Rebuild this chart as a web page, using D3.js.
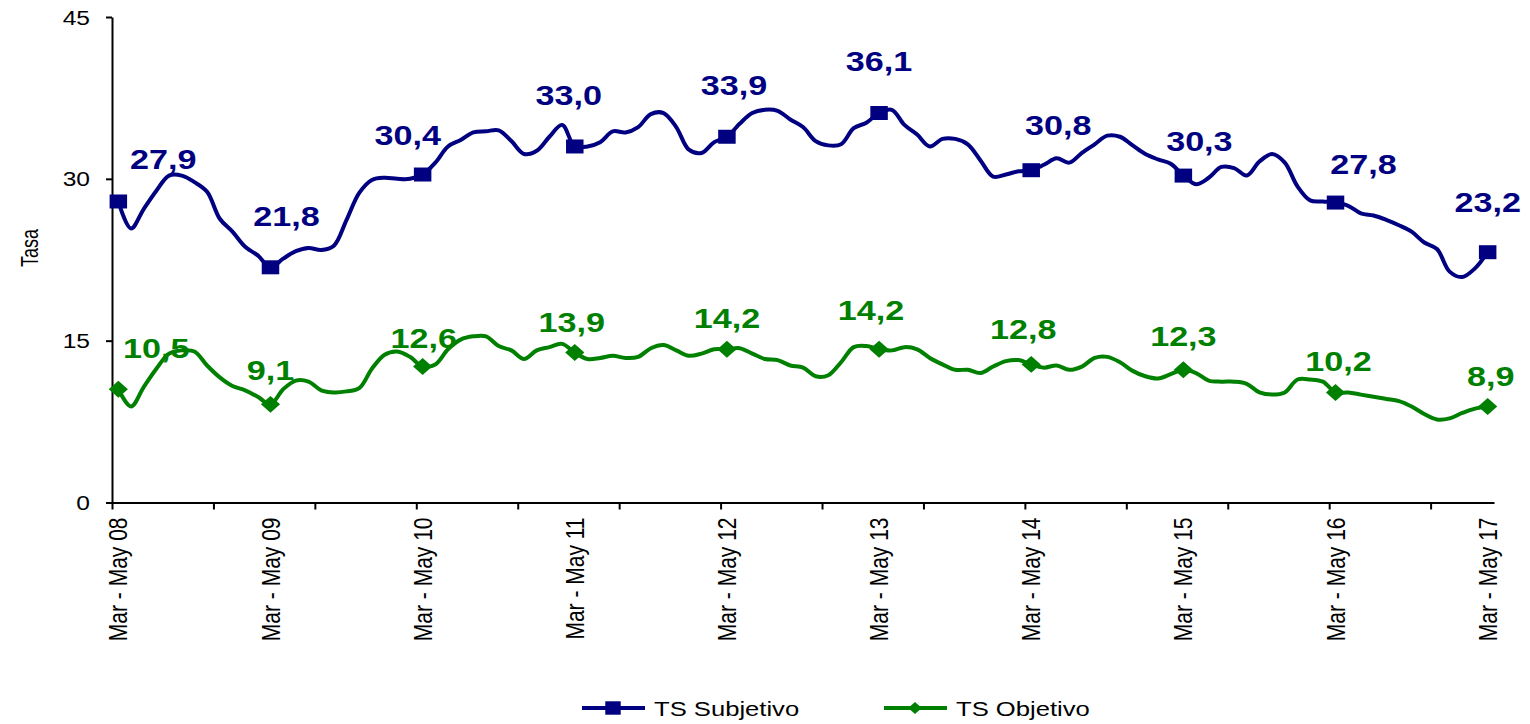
<!DOCTYPE html>
<html>
<head>
<meta charset="utf-8">
<script src="https://cdn.jsdelivr.net/npm/d3@7"></script>
<style>
  body { margin: 0; background: #fff; }
  svg { display: block; }
  text { font-family: "Liberation Sans", Arial, sans-serif; }
</style>
</head>
<body>
<svg id="chart"></svg>
<script>
// rolling quarters, Mar-May 08 .. Mar-May 17 (monthly)
const monthNames = ["Ene", "Feb", "Mar", "Abr", "May", "Jun", "Jul", "Ago", "Sep", "Oct", "Nov", "Dic"];
const categories = d3.range(109).map(i => {
  const s = (2 + i) % 12, e = (4 + i) % 12, yr = 8 + Math.floor((4 + i) / 12);
  return `${monthNames[s]} - ${monthNames[e]} ${String(yr).padStart(2, "0")}`;
});

const tsSubjetivo = [
  27.9, 25.4, 27.2, 28.9, 30.3, 30.3, 29.7, 28.8, 26.3, 25.1, 23.7, 22.9,
  21.8, 22.6, 23.3, 23.6, 23.4, 23.8, 26.2, 28.7, 29.9, 30.1, 30.0, 30.0,
  30.4, 31.5, 33.0, 33.6, 34.3, 34.4, 34.5, 33.5, 32.3, 32.6, 33.9, 35.0,
  33.0, 33.0, 33.4, 34.4, 34.3, 34.8, 36.0, 36.1, 34.8, 32.7, 32.4, 33.4,
  33.9, 35.1, 36.1, 36.4, 36.3, 35.5, 34.8, 33.5, 33.1, 33.2, 34.7, 35.2,
  36.1, 36.4, 35.0, 34.1, 33.0, 33.7, 33.7, 33.2, 31.7, 30.2, 30.4, 30.7,
  30.8, 31.3, 31.9, 31.5, 32.4, 33.2, 34.0, 33.9, 33.1, 32.3, 31.8, 31.4,
  30.3, 29.5, 30.1, 31.1, 31.0, 30.3, 31.6, 32.3, 31.5, 29.3, 28.0, 27.9,
  27.8, 27.5, 26.8, 26.6, 26.2, 25.7, 25.1, 24.1, 23.5, 21.4, 20.9, 21.7,
  23.2
];

const tsObjetivo = [
  10.5, 8.9, 10.7, 12.4, 13.8, 14.1, 14.0, 12.7, 11.6, 10.8, 10.4, 9.8,
  9.1, 10.5, 11.3, 11.2, 10.4, 10.2, 10.3, 10.6, 12.4, 13.7, 14.0, 13.5,
  12.6, 12.8, 14.2, 15.1, 15.4, 15.4, 14.5, 14.1, 13.3, 14.1, 14.4, 14.7,
  13.9, 13.3, 13.4, 13.6, 13.4, 13.5, 14.3, 14.6, 14.1, 13.6, 13.8, 14.2,
  14.2, 14.3, 13.8, 13.3, 13.2, 12.7, 12.5, 11.7, 11.8, 13.0, 14.4, 14.5,
  14.2, 14.1, 14.4, 14.2, 13.4, 12.8, 12.3, 12.3, 12.0, 12.6, 13.1, 13.2,
  12.8, 12.5, 12.7, 12.3, 12.6, 13.4, 13.5, 13.0, 12.2, 11.7, 11.5, 11.9,
  12.3, 12.0, 11.3, 11.2, 11.2, 11.0, 10.2, 10.0, 10.2, 11.4, 11.4, 11.2,
  10.2, 10.2, 10.0, 9.8, 9.6, 9.4, 8.9, 8.2, 7.7, 7.8, 8.3, 8.7,
  8.9
];

const yTicks = [0, 15, 30, 45];
const labelEvery = 12;   // one label / marker per year
const tickEvery = 8;     // tick marks on the category axis

// hand placed data labels (dx, dy from the point, like in the original)
const nudgeSubjetivo = [[45, -32], [16, -41], [-15, -30], [-6, -41], [7, -42], [0, -42], [27, -35], [16, -25], [28, -29], [0, -40]];
const nudgeObjetivo = [[38, -31], [0, -24], [1, -19], [-3, -21], [0, -21], [-8, -29], [-8, -25], [0, -24], [3, -21], [3, -20]];

const series = [
  { name: "TS Subjetivo", values: tsSubjetivo, color: "#000080", marker: "square", nudge: nudgeSubjetivo },
  { name: "TS Objetivo", values: tsObjetivo, color: "#008000", marker: "diamond", nudge: nudgeObjetivo }
];

const W = 1530, H = 724;
const stretch = 1.22; // the picture is wider than the fonts

const svg = d3.select("#chart").attr("width", W).attr("height", H);

const x = d3.scaleBand().domain(categories).range([112, 1494]).paddingInner(0).paddingOuter(0);
const cx = d => x(d) + x.bandwidth() / 2;
const xEdge = d3.scaleLinear().domain([0, categories.length]).range(x.range());
const y = d3.scaleLinear().domain([0, 45]).range([502.5, 17]);

// y axis
const yAxisG = svg.append("g")
  .attr("transform", `translate(${xEdge(0)},0)`)
  .call(d3.axisLeft(y).tickValues(yTicks).tickSize(6).tickSizeOuter(0).tickPadding(0));
yAxisG.select(".domain").attr("stroke", "#000").attr("stroke-width", 2);
yAxisG.selectAll(".tick line").attr("stroke", "#000").attr("stroke-width", 2);
yAxisG.selectAll(".tick text")
  .attr("font-size", 19.5).attr("fill", "#000")
  .attr("x", -22 / 1.26).attr("dy", "0.36em")
  .attr("transform", "scale(1.26,1)");

svg.append("text")
  .attr("transform", "translate(38,248) scale(1.3,1) rotate(-90)")
  .attr("text-anchor", "middle")
  .attr("font-size", 18)
  .text("Tasa");

// x axis: tick marks
const xAxisG = svg.append("g")
  .attr("transform", `translate(0,${y(0)})`)
  .call(d3.axisBottom(xEdge).tickValues(d3.range(0, categories.length, tickEvery)).tickFormat("").tickSize(7).tickSizeOuter(0));
xAxisG.select(".domain").attr("stroke", "#000").attr("stroke-width", 2);
xAxisG.selectAll(".tick line").attr("stroke", "#000").attr("stroke-width", 2);

// x axis: labels
const xLabG = svg.append("g")
  .attr("transform", `translate(0,${y(0)})`)
  .call(d3.axisBottom(x).tickValues(categories.filter((d, i) => i % labelEvery === 0)).tickSize(0).tickPadding(0));
xLabG.select(".domain").remove();
xLabG.selectAll(".tick text")
  .attr("font-size", 21).attr("fill", "#000")
  .attr("text-anchor", "end")
  .attr("transform", "scale(1.2,1) rotate(-90)")
  .attr("x", -15).attr("y", 0).attr("dy", "0.36em");

// lines
const line = d3.line()
  .x((d, i) => cx(categories[i]))
  .y(d => y(d))
  .curve(d3.curveCatmullRom.alpha(0.5));

const symSquare = d3.symbol().type(d3.symbolSquare).size(196);
const symDiamond = d3.symbol().type(d3.symbolDiamond2).size(150);

series.forEach(s => {
  svg.append("path")
    .attr("d", line(s.values))
    .attr("fill", "none")
    .attr("stroke", s.color)
    .attr("stroke-width", 4)
    .attr("stroke-linejoin", "round");

  const yearly = s.values.map((v, i) => ({ v, i })).filter(d => d.i % labelEvery === 0);

  svg.append("g").selectAll("path")
    .data(yearly)
    .join("path")
    .attr("d", s.marker === "square" ? symSquare() : symDiamond())
    .attr("fill", s.color)
    .attr("transform", d => `translate(${cx(categories[d.i])},${y(d.v)}) scale(1.25,${s.marker === "square" ? 1 : 1.1})`);

  svg.append("g").selectAll("g")
    .data(yearly)
    .join("g")
    .attr("transform", (d, k) => `translate(${cx(categories[d.i]) + s.nudge[k][0]},${y(d.v) + s.nudge[k][1]})`)
    .append("text")
    .attr("transform", `scale(${stretch},1)`)
    .attr("text-anchor", "middle")
    .attr("font-size", 28)
    .attr("font-weight", "bold")
    .attr("fill", s.color)
    .text(d => d3.format(".1f")(d.v).replace(".", ","));
});

// legend
const legendX = [582, 884];
const legend = svg.append("g").attr("transform", "translate(0,708)");
series.forEach((s, k) => {
  const g = legend.append("g").attr("transform", `translate(${legendX[k]},0)`);
  g.append("line").attr("x1", 0).attr("x2", 63).attr("stroke", s.color).attr("stroke-width", 4);
  g.append("path")
    .attr("d", s.marker === "square" ? d3.symbol().type(d3.symbolSquare).size(180)() : d3.symbol().type(d3.symbolDiamond2).size(90)())
    .attr("fill", s.color)
    .attr("transform", "translate(31,0) scale(1.15,1)");
  g.append("text")
    .attr("x", 72 / 1.22).attr("dy", "0.36em")
    .attr("transform", "scale(1.22,1)")
    .attr("font-size", 21)
    .attr("fill", "#000")
    .text(s.name);
});
</script>
</body>
</html>
